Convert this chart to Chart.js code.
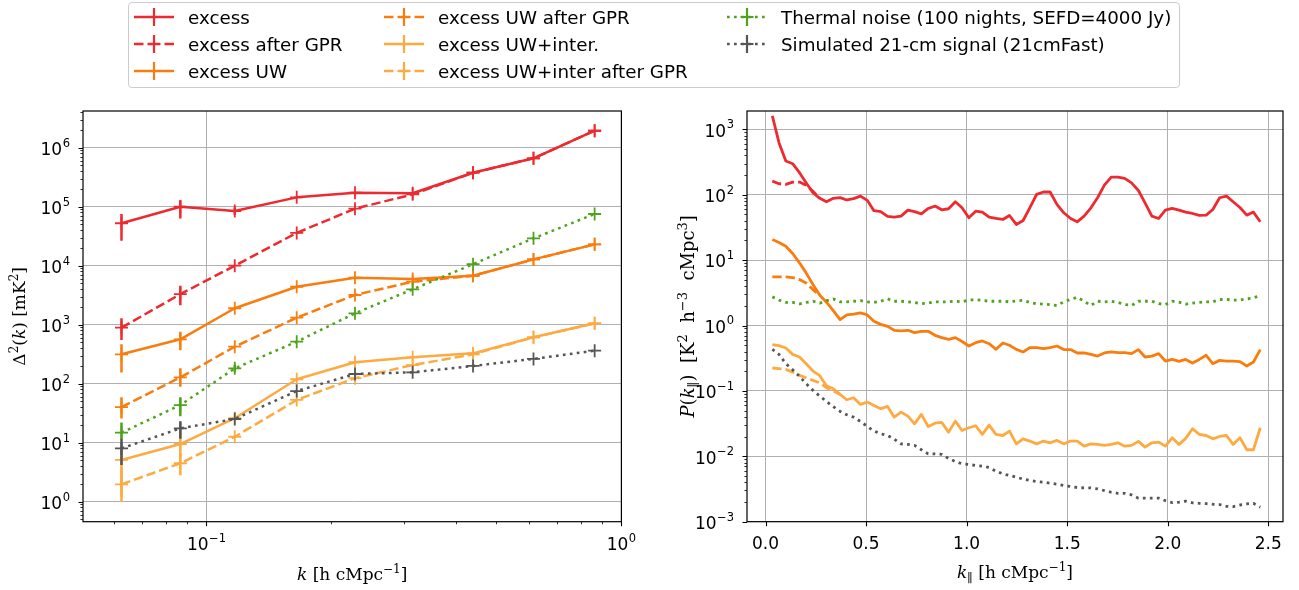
<!DOCTYPE html>
<html>
<head>
<meta charset="utf-8">
<title>Excess power spectra</title>
<script src="https://cdn.jsdelivr.net/npm/chart.js@4.4.1/dist/chart.umd.min.js"></script>
<style>
  html, body { margin: 0; padding: 0; background: #ffffff; }
  #figure { position: relative; width: 1299px; height: 590px; overflow: hidden; }
  #cvLeft { position: absolute; left: 0; top: 0; }
  #cvRight { position: absolute; left: 650px; top: 0; }
  #legend { position: absolute; left: 128px; top: 2px; width: 1052px; height: 86px; box-sizing: border-box;
            border: 1px solid #cccccc; border-radius: 4px; background: rgba(255,255,255,0.8); }
  .entry { position: absolute; height: 24px; display: flex; align-items: center;
           font-family: "DejaVu Sans", sans-serif; font-size: 18.3px; color: #000; white-space: nowrap; }
  .entry svg { margin-right: 14px; flex: none; }
</style>
</head>
<body>
<div id="figure">
  <canvas id="cvLeft" width="640" height="590"></canvas>
  <canvas id="cvRight" width="649" height="590"></canvas>
  <div id="legend"></div>
</div>
<script>
// ---------------- series names and styles ----------------
const SERIES_NAMES = ['excess', 'excess after GPR', 'excess UW', 'excess UW after GPR',
  'excess UW+inter.', 'excess UW+inter after GPR',
  'Thermal noise (100 nights, SEFD=4000 Jy)', 'Simulated 21-cm signal (21cmFast)'];
const SERIES_COLORS = ['#ec2a2f', '#ec2a2f', '#f97c0e', '#f97c0e', '#fdaa42', '#fdaa42', '#4ea31c', '#555555'];
const SERIES_DASH = ['solid', 'dash', 'solid', 'dash', 'solid', 'dash', 'dot', 'dot'];

// ---------------- spherical power spectrum Δ²(k) [mK²] ----------------
const K_BINS = [0.0624, 0.0865, 0.117, 0.165, 0.228, 0.314, 0.439, 0.614, 0.862];
const D2_EXCESS     = [52400, 100000, 84500, 144000, 173000, 169000, 377000, 662000, 1940000];
const D2_EXCESS_GPR = [890, 3300, 10000, 36000, 92500, 162000, 377000, 662000, 1940000];
const D2_UW         = [315, 565, 1900, 4400, 6270, 5950, 6760, 12800, 23000];
const D2_UW_GPR     = [40, 128, 424, 1315, 3190, 5360, 6760, 12800, 23000];
const D2_UWI        = [5.1, 9.5, 26, 119, 231, 280, 327, 611, 1057];
const D2_UWI_GPR    = [1.97, 4.48, 12.6, 53, 124, 207, 315, 611, 1057];
const D2_NOISE      = [14.8, 43.5, 182, 515, 1560, 3980, 10600, 29100, 75200];
const D2_21CM       = [8.0, 17.5, 25.2, 75, 146, 156, 200, 263, 363];

// error ranges [low, high] for the bins where the bar is longer than the marker
const ERR_EXCESS     = [[26500, 75200], [63000, 129000], [72000, 98000]];
const ERR_EXCESS_GPR = [[550, 1290], [2140, 4570]];
const ERR_UW         = [[155, 468], [370, 760]];
const ERR_UW_GPR     = [[25.7, 59], [89, 182]];
const ERR_UWI        = [[1.2, 8.5], [5.8, 14.5]];
const ERR_UWI_GPR    = [[1.0, 3.8], [2.8, 6.6]];
const ERR_NOISE      = [[11.7, 21.9], [28, 59], [160, 210]];
const ERR_21CM       = [[4.2, 11.7], [11.7, 23]];

// ---------------- line-of-sight power spectrum P(k∥) ----------------
const K_PAR = [0.034, 0.067, 0.101, 0.135, 0.169, 0.202, 0.236, 0.270, 0.303, 0.337,
  0.371, 0.404, 0.438, 0.472, 0.506, 0.539, 0.573, 0.607, 0.640, 0.674,
  0.708, 0.741, 0.775, 0.809, 0.843, 0.876, 0.910, 0.944, 0.977, 1.011,
  1.045, 1.078, 1.112, 1.146, 1.180, 1.213, 1.247, 1.281, 1.314, 1.348,
  1.382, 1.415, 1.449, 1.483, 1.517, 1.550, 1.584, 1.618, 1.651, 1.685,
  1.719, 1.752, 1.786, 1.820, 1.854, 1.887, 1.921, 1.955, 1.988, 2.022,
  2.056, 2.089, 2.123, 2.157, 2.191, 2.224, 2.258, 2.292, 2.325, 2.359,
  2.393, 2.426, 2.460];
const PK_EXCESS = [1600, 624, 327, 298, 217, 152, 107, 88, 78, 88,
  90, 83, 87, 95, 82, 57, 55, 46.5, 45.4, 47,
  58, 55, 51, 61.6, 67, 58.8, 61, 78, 63, 44.4,
  56, 54, 45.4, 43.3, 41.8, 48.1, 35.1, 40.3, 63, 101,
  110, 110, 71, 52.9, 43.3, 38.5, 47, 63, 89.8, 140,
  186, 186, 178, 152, 116, 75, 47, 43.3, 58, 61.6,
  58, 54, 51.6, 48.3, 48.7, 59.4, 89.8, 95, 78, 63.8,
  48.7, 54.2, 38.5];
const PK_EXCESS_GPR = [161, 147, 144, 156, 156, 140, 113, 88];
const PK_UW = [20.6, 18.6, 16.3, 12.6, 9.08, 6.38, 4.23, 2.90, 2.27, 1.69,
  1.23, 1.45, 1.49, 1.56, 1.45, 1.16, 1.04, 0.97, 0.845, 0.825,
  0.845, 0.778, 0.815, 0.815, 0.708, 0.652, 0.615, 0.652, 0.57, 0.486,
  0.547, 0.58, 0.527, 0.432, 0.541, 0.498, 0.432, 0.394, 0.458, 0.458,
  0.442, 0.458, 0.486, 0.428, 0.428, 0.38, 0.38, 0.362, 0.341, 0.38,
  0.394, 0.385, 0.385, 0.371, 0.428, 0.33, 0.341, 0.371, 0.286, 0.303,
  0.283, 0.303, 0.267, 0.303, 0.35, 0.261, 0.293, 0.286, 0.286, 0.28,
  0.24, 0.277, 0.427];
const PK_UW_GPR = [5.53, 5.53, 5.53, 5.41, 5.04, 4.48, 3.54, 2.90];
const PK_UWI = [0.509, 0.492, 0.453, 0.362, 0.33, 0.261, 0.201, 0.171, 0.12, 0.108,
  0.0883, 0.0733, 0.0785, 0.0621, 0.0675, 0.06, 0.0533, 0.0579, 0.0397, 0.0474,
  0.0412, 0.0314, 0.0437, 0.0286, 0.0321, 0.033, 0.0234, 0.0345, 0.0248, 0.0273,
  0.0293, 0.0216, 0.030, 0.0216, 0.0208, 0.0243, 0.0155, 0.0185, 0.0171, 0.0155,
  0.0171, 0.0161, 0.0175, 0.0155, 0.0171, 0.0171, 0.0143, 0.0155, 0.0152, 0.0147,
  0.0152, 0.0161, 0.0143, 0.0147, 0.0169, 0.0138, 0.0161, 0.0165, 0.0143, 0.0192,
  0.0152, 0.0188, 0.0264, 0.0216, 0.0208, 0.0185, 0.0201, 0.0208, 0.0152, 0.0192,
  0.0126, 0.0126, 0.0273];
const PK_UWI_GPR = [0.224, 0.219, 0.213, 0.194, 0.173, 0.159, 0.145, 0.133, 0.112, 0.0995, 0.0883];
const PK_NOISE = [2.74, 2.45, 2.25, 2.25, 2.15, 2.25, 2.35, 2.2, 2.4, 2.55,
  2.3, 2.3, 2.35, 2.4, 2.3, 2.25, 2.35, 2.55, 2.35, 2.35,
  2.3, 2.25, 2.15, 2.2, 2.3, 2.3, 2.3, 2.35, 2.3, 2.45,
  2.48, 2.42, 2.35, 2.35, 2.35, 2.3, 2.38, 2.42, 2.25, 2.15,
  2.12, 2.08, 2.02, 2.3, 2.5, 2.7, 2.35, 2.03, 2.35, 2.3,
  2.35, 2.25, 2.1, 2.02, 2.35, 2.35, 2.35, 2.16, 2.09, 2.35,
  2.28, 2.12, 2.2, 2.25, 2.3, 2.3, 2.5, 2.5, 2.45, 2.45,
  2.55, 2.65, 2.85];
const PK_21CM = [0.432, 0.362, 0.261, 0.211, 0.167, 0.129, 0.102, 0.0834, 0.069, 0.0573,
  0.0486, 0.0432, 0.0397, 0.0341, 0.0286, 0.0243, 0.0221, 0.0208, 0.0183, 0.0155,
  0.0152, 0.0147, 0.0126, 0.0109, 0.0109, 0.0107, 0.00927, 0.00832, 0.00767, 0.0075,
  0.00723, 0.00707, 0.00674, 0.00592, 0.0054, 0.00508, 0.0048, 0.00447, 0.00427, 0.00411,
  0.00402, 0.00388, 0.00374, 0.00357, 0.00345, 0.00333, 0.00329, 0.00329, 0.00318, 0.00299,
  0.00282, 0.00272, 0.00272, 0.00257, 0.00229, 0.00229, 0.00229, 0.00229, 0.0021, 0.00196,
  0.00199, 0.00206, 0.00194, 0.00191, 0.00189, 0.00185, 0.00183, 0.00172, 0.0017, 0.0018,
  0.00187, 0.00191, 0.00166];

// ---------------- tick values and labels ([base, exponent]) ----------------
const D2_X_TICKS = [0.1, 1];
const D2_X_LABELS = [['10', '\u22121'], ['10', '0']];
const D2_Y_TICKS = [1, 10, 100, 1e3, 1e4, 1e5, 1e6];
const D2_Y_LABELS = [['10', '0'], ['10', '1'], ['10', '2'], ['10', '3'], ['10', '4'], ['10', '5'], ['10', '6']];
const PK_X_TICKS = [0, 0.5, 1, 1.5, 2, 2.5];
const PK_X_LABELS = [['0.0'], ['0.5'], ['1.0'], ['1.5'], ['2.0'], ['2.5']];
const PK_Y_TICKS = [1e-3, 1e-2, 1e-1, 1, 10, 100, 1000];
const PK_Y_LABELS = [['10', '\u22123'], ['10', '\u22122'], ['10', '\u22121'], ['10', '0'], ['10', '1'], ['10', '2'], ['10', '3']];

// ---------------- helpers ----------------
const DASHES = { solid: [], dash: [9.3, 4], dot: [2.7, 4.3] };
const GRID_COLOR = '#b0b0b0';
const SANS = '"DejaVu Sans", sans-serif';

function toPoints(xs, ys) { return ys.map((y, i) => ({ x: xs[i], y: y })); }

function logMinor(min, max) {
  const out = [];
  for (let d = Math.floor(Math.log10(min)); d <= Math.ceil(Math.log10(max)); d++) {
    for (let m = 2; m <= 9; m++) {
      const v = m * Math.pow(10, d);
      if (v > min && v < max) out.push(v);
    }
  }
  return out;
}

// text made of roman / italic / super- / subscript runs, centred on (cx, cy)
function drawRuns(ctx, runs, cx, cy, rotate, size) {
  const fam = '"DejaVu Serif", serif';
  const fontFor = k => (k === 'i' ? 'italic ' : '') +
    ((k === 'sup' || k === 'sub') ? Math.round(size * 0.7) : size) + 'px ' + fam;
  ctx.save();
  ctx.translate(cx, cy);
  if (rotate) ctx.rotate(rotate);
  let total = 0;
  const widths = runs.map(([t, k]) => { ctx.font = fontFor(k); const w = ctx.measureText(t).width; total += w; return w; });
  let x = -total / 2;
  ctx.fillStyle = '#000';
  ctx.textBaseline = 'alphabetic';
  ctx.textAlign = 'left';
  runs.forEach(([t, k], i) => {
    ctx.font = fontFor(k);
    const dy = k === 'sup' ? -size * 0.4 : (k === 'sub' ? size * 0.22 : 0);
    ctx.fillText(t, x, size * 0.36 + dy);
    x += widths[i];
  });
  ctx.restore();
}

// tick label "base^exponent"; (x, yMid) is the anchor, digits of the base centred on yMid
function drawTickLabel(ctx, label, x, yMid, align) {
  const base = label[0], exp = label[1];
  ctx.font = '17px ' + SANS;
  const wb = ctx.measureText(base).width;
  ctx.font = '11.5px ' + SANS;
  const we = exp ? ctx.measureText(exp).width + 0.5 : 0;
  const w = wb + we;
  const x0 = align === 'right' ? x - w : x - w / 2;
  const baseline = yMid + 6.2;
  ctx.textAlign = 'left';
  ctx.textBaseline = 'alphabetic';
  ctx.fillStyle = '#000';
  ctx.font = '17px ' + SANS;
  ctx.fillText(base, x0, baseline);
  if (exp) {
    ctx.font = '11.5px ' + SANS;
    ctx.fillText(exp, x0 + wb + 0.5, baseline - 8.3);
  }
}

// frame, outward tick marks, tick labels and axis titles
const axesDecor = {
  id: 'axesDecor',
  afterDraw(chart, args, opts) {
    const { ctx, chartArea: a, scales } = chart;
    const xs = scales.x, ys = scales.y;
    ctx.save();
    ctx.strokeStyle = '#000';
    ctx.setLineDash([]);
    ctx.lineWidth = 1.1;
    ctx.beginPath();
    xs.ticks.forEach(t => { const p = Math.round(xs.getPixelForValue(t.value)) + 0.5; ctx.moveTo(p, a.bottom); ctx.lineTo(p, a.bottom + 4.5); });
    ys.ticks.forEach(t => { const p = Math.round(ys.getPixelForValue(t.value)) + 0.5; ctx.moveTo(a.left, p); ctx.lineTo(a.left - 4.5, p); });
    ctx.stroke();
    ctx.lineWidth = 0.8;
    ctx.beginPath();
    (opts.minorX || []).forEach(v => { const p = Math.round(xs.getPixelForValue(v)) + 0.5; ctx.moveTo(p, a.bottom); ctx.lineTo(p, a.bottom + 2.6); });
    (opts.minorY || []).forEach(v => { const p = Math.round(ys.getPixelForValue(v)) + 0.5; ctx.moveTo(a.left, p); ctx.lineTo(a.left - 2.6, p); });
    ctx.stroke();
    ctx.lineWidth = 1.2;
    ctx.strokeRect(a.left, a.top, a.right - a.left, a.bottom - a.top);
    xs.ticks.forEach((t, i) => drawTickLabel(ctx, opts.xLabels[i], xs.getPixelForValue(t.value), opts.xLabelMid, 'center'));
    ys.ticks.forEach((t, i) => drawTickLabel(ctx, opts.yLabels[i], a.left - 13, ys.getPixelForValue(t.value) + 1, 'right'));
    drawRuns(ctx, opts.xTitle, (a.left + a.right) / 2, opts.xTitleY, 0, 17);
    drawRuns(ctx, opts.yTitle, opts.yTitleX, (a.top + a.bottom) / 2, -Math.PI / 2, opts.yTitleSize || 17);
    ctx.restore();
  }
};

// vertical error bars, drawn together with their own series
const errorBars = {
  id: 'errorBars',
  afterDatasetDraw(chart, args) {
    const ds = chart.data.datasets[args.index];
    if (!ds.errors) return;
    const { ctx } = chart;
    const xs = chart.scales.x, ys = chart.scales.y;
    ctx.save();
    ctx.strokeStyle = ds.borderColor;
    ctx.lineWidth = ds.borderWidth;
    ctx.setLineDash([]);
    ctx.beginPath();
    ds.errors.forEach((e, i) => {
      if (!e) return;
      const x = xs.getPixelForValue(ds.data[i].x);
      ctx.moveTo(x, ys.getPixelForValue(e[0]));
      ctx.lineTo(x, ys.getPixelForValue(e[1]));
    });
    ctx.stroke();
    ctx.restore();
  }
};

function fixedTicks(values) {
  return axis => { axis.ticks = values.map(v => ({ value: v })); };
}

function axisOptions(type, min, max, ticks, fit) {
  return {
    type: type, min: min, max: max,
    afterBuildTicks: fixedTicks(ticks),
    afterFit: fit,
    grid: { color: GRID_COLOR, lineWidth: 1, drawTicks: false },
    border: { display: false },
    ticks: { display: false, autoSkip: false, maxRotation: 0 }
  };
}

function lineDataset(i, data, width, withMarker, errors) {
  return {
    label: SERIES_NAMES[i],
    data: data,
    errors: errors,
    borderColor: SERIES_COLORS[i],
    backgroundColor: SERIES_COLORS[i],
    borderWidth: width,
    borderDash: DASHES[SERIES_DASH[i]],
    borderCapStyle: 'butt',
    borderJoinStyle: 'round',
    pointStyle: 'cross',
    pointRadius: withMarker ? 6.5 : 0,
    pointHoverRadius: withMarker ? 6.5 : 0,
    pointBorderWidth: 1.8,
    pointBorderColor: SERIES_COLORS[i],
    fill: false,
    tension: 0,
    order: SERIES_NAMES.length - i
  };
}

// ---------------- left panel: Δ²(k) ----------------
const D2_SERIES = [D2_EXCESS, D2_EXCESS_GPR, D2_UW, D2_UW_GPR, D2_UWI, D2_UWI_GPR, D2_NOISE, D2_21CM];
const D2_ERRORS = [ERR_EXCESS, ERR_EXCESS_GPR, ERR_UW, ERR_UW_GPR, ERR_UWI, ERR_UWI_GPR, ERR_NOISE, ERR_21CM];
const D2_X_RANGE = [0.0504, 1.0];
const D2_Y_RANGE = [0.458, 4.19e6];

new Chart(document.getElementById('cvLeft'), {
  type: 'line',
  data: { datasets: D2_SERIES.map((s, i) => lineDataset(i, toPoints(K_BINS, s), 2.5, true, D2_ERRORS[i])) },
  options: {
    responsive: false, animation: false, devicePixelRatio: 1,
    layout: { padding: { left: 0, right: 18.6, top: 111, bottom: 0 } },
    plugins: {
      legend: { display: false }, tooltip: { enabled: false },
      axesDecor: {
        minorX: logMinor(D2_X_RANGE[0], D2_X_RANGE[1]),
        minorY: logMinor(D2_Y_RANGE[0], D2_Y_RANGE[1]),
        xLabels: D2_X_LABELS, yLabels: D2_Y_LABELS, xLabelMid: 544,
        xTitle: [['k', 'i'], [' [h cMpc', 'r'], ['\u22121', 'sup'], [']', 'r']],
        xTitleY: 574,
        yTitle: [['\u0394', 'r'], ['2', 'sup'], ['(', 'r'], ['k', 'i'], [')', 'r'], [' [mK', 'r'], ['2', 'sup'], [']', 'r']],
        yTitleX: 19
      }
    },
    scales: {
      x: axisOptions('logarithmic', D2_X_RANGE[0], D2_X_RANGE[1], D2_X_TICKS, s => { s.height = 68.3; }),
      y: axisOptions('logarithmic', D2_Y_RANGE[0], D2_Y_RANGE[1], D2_Y_TICKS, s => { s.width = 83; })
    }
  },
  plugins: [errorBars, axesDecor]
});

// ---------------- right panel: P(k∥) ----------------
const PK_SERIES = [PK_EXCESS, PK_EXCESS_GPR, PK_UW, PK_UW_GPR, PK_UWI, PK_UWI_GPR, PK_NOISE, PK_21CM];
const PK_X_RANGE = [-0.092, 2.573];
const PK_Y_RANGE = [1e-3, 1905];

new Chart(document.getElementById('cvRight'), {
  type: 'line',
  data: { datasets: PK_SERIES.map((s, i) => lineDataset(i, toPoints(K_PAR, s), 2.8, false, null)) },
  options: {
    responsive: false, animation: false, devicePixelRatio: 1,
    layout: { padding: { left: 0, right: 16, top: 111, bottom: 0 } },
    plugins: {
      legend: { display: false }, tooltip: { enabled: false },
      axesDecor: {
        minorX: [],
        minorY: logMinor(PK_Y_RANGE[0], PK_Y_RANGE[1]),
        xLabels: PK_X_LABELS, yLabels: PK_Y_LABELS, xLabelMid: 543,
        xTitle: [['k', 'i'], ['\u2225', 'sub'], [' [h cMpc', 'r'], ['\u22121', 'sup'], [']', 'r']],
        xTitleY: 572,
        yTitle: [['P', 'i'], ['(', 'r'], ['k', 'i'], ['\u2225', 'sub'], [')  [K', 'r'], ['2', 'sup'], ['  h', 'r'],
                 ['\u22123', 'sup'], ['  cMpc', 'r'], ['3', 'sup'], [']', 'r']],
        yTitleX: 38, yTitleSize: 18
      }
    },
    scales: {
      x: axisOptions('linear', PK_X_RANGE[0], PK_X_RANGE[1], PK_X_TICKS, s => { s.height = 68.3; }),
      y: axisOptions('logarithmic', PK_Y_RANGE[0], PK_Y_RANGE[1], PK_Y_TICKS, s => { s.width = 97; })
    }
  },
  plugins: [axesDecor]
});

// ---------------- shared legend ----------------
const LEGEND_COL_X = [134, 384, 727];
const LEGEND_ROW_Y = [17, 44, 71];
const LEGEND_DASH = { solid: '', dash: '9.5 4.5 12 4.5 9.5', dot: '2.7 4.3' };
const legendBox = document.getElementById('legend');
SERIES_NAMES.forEach((name, i) => {
  const col = Math.floor(i / 3), row = i % 3;
  const el = document.createElement('div');
  el.className = 'entry';
  el.style.left = (LEGEND_COL_X[col] - 129) + 'px';
  el.style.top = (LEGEND_ROW_Y[row] - 3 - 12) + 'px';
  const dash = LEGEND_DASH[SERIES_DASH[i]];
  const c = SERIES_COLORS[i];
  el.innerHTML =
    '<svg width="40" height="22" viewBox="0 0 40 22">' +
    '<line x1="0" y1="11" x2="40" y2="11" stroke="' + c + '" stroke-width="2.5"' +
    (dash ? ' stroke-dasharray="' + dash + '"' : '') + '/>' +
    '<line x1="20" y1="2" x2="20" y2="20" stroke="' + c + '" stroke-width="2.2"/>' +
    '<line x1="13.5" y1="11" x2="26.5" y2="11" stroke="' + c + '" stroke-width="2"/>' +
    '</svg><span>' + name + '</span>';
  legendBox.appendChild(el);
});
</script>
</body>
</html>
